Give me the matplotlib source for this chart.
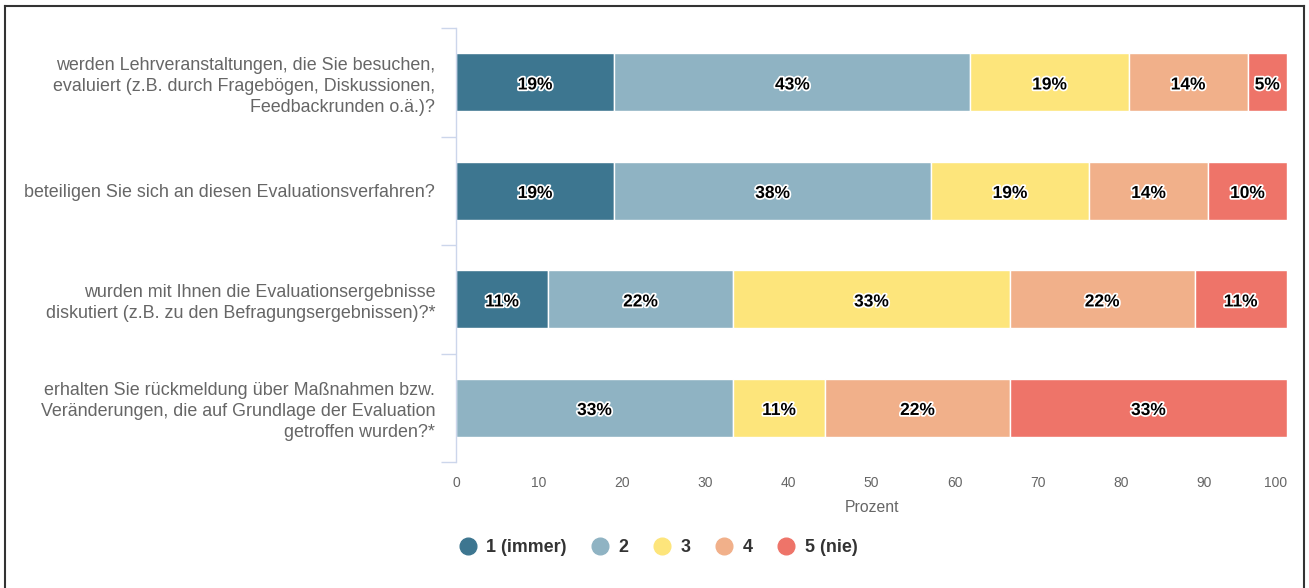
import matplotlib.pyplot as plt
import matplotlib.patheffects as pe
from matplotlib.lines import Line2D
import numpy as np

plt.rcParams["font.family"] = ["Liberation Sans", "DejaVu Sans"]

# Questions (top to bottom)
questions = [
    "werden Lehrveranstaltungen, die Sie besuchen,\nevaluiert (z.B. durch Fragebögen, Diskussionen,\nFeedbackrunden o.ä.)?",
    "beteiligen Sie sich an diesen Evaluationsverfahren?",
    "wurden mit Ihnen die Evaluationsergebnisse\ndiskutiert (z.B. zu den Befragungsergebnissen)?*",
    "erhalten Sie rückmeldung über Maßnahmen bzw.\nVeränderungen, die auf Grundlage der Evaluation\ngetroffen wurden?*",
]
series_names = ["1 (immer)", "2", "3", "4", "5 (nie)"]
colors = ["#3d7690", "#8fb3c3", "#fde57b", "#f1b08a", "#ee7469"]

# percentages per answer category, one list per series (rows = questions)
s1 = [19.05, 19.05, 11.11, 0.0]
s2 = [42.86, 38.10, 22.22, 33.33]
s3 = [19.05, 19.05, 33.33, 11.11]
s4 = [14.29, 14.29, 22.22, 22.22]
s5 = [4.76, 9.52, 11.11, 33.33]
series = [s1, s2, s3, s4, s5]

W, H = 1309, 588
fig = plt.figure(figsize=(W / 100, H / 100), dpi=100)
ax = fig.add_axes([456 / W, 1 - 462 / H, (1287 - 456) / W, (462 - 28) / H])

y = np.arange(len(questions))
left = np.zeros(len(questions))
for name, vals, c in zip(series_names, series, colors):
    vals = np.array(vals)
    ax.barh(y, vals, left=left, height=0.53, color=c, edgecolor="white",
            linewidth=1, label=name)
    for yi, (l, v) in enumerate(zip(left, vals)):
        if v > 0:
            t = ax.text(l + v / 2, yi + 0.025, f"{v:.0f}%", ha="center", va="center",
                        fontsize=12.5, fontweight="bold", color="black")
            t.set_path_effects([pe.withStroke(linewidth=2.5, foreground="white")])
    left = left + vals

ax.set_xlim(0, 100)
ax.set_ylim(len(questions) - 0.5, -0.5)
ax.set_xticks(np.arange(0, 101, 10))
ax.tick_params(axis="x", length=0, labelsize=10, labelcolor="#666666", pad=10)
ax.get_xticklabels()[-1].set_horizontalalignment("right")

# category labels + boundary ticks
ax.set_yticks(y)
ax.set_yticklabels(questions, fontsize=12.9, color="#666666", linespacing=1.32)
ax.set_yticks(np.arange(-0.5, len(questions)), minor=True)
ax.tick_params(axis="y", which="minor", length=11, color="#ccd6eb", width=1)
ax.tick_params(axis="y", which="major", length=0, pad=15)

for s in ["top", "right", "bottom"]:
    ax.spines[s].set_visible(False)
ax.spines["left"].set_color("#ccd6eb")
ax.spines["left"].set_linewidth(1)

ax.set_xlabel("Prozent", fontsize=11.3, color="#666666", labelpad=7)

handles = [Line2D([0], [0], marker="o", linestyle="none", markersize=12,
                  markerfacecolor=c, markeredgecolor=c) for c in colors]
leg = fig.legend(handles, series_names, loc="center", bbox_to_anchor=(658 / W, 1 - 548 / H),
                 ncol=5, frameon=False, handlelength=1.0, handletextpad=0.55,
                 columnspacing=1.35, prop={"weight": "bold", "size": 12.9})
for t in leg.get_texts():
    t.set_color("#333333")

# outer frame
for xs, ys in [([5 / W, 5 / W], [0, 1 - 6 / H]),
               ([5 / W, 1304 / W], [1 - 6 / H, 1 - 6 / H]),
               ([1304 / W, 1304 / W], [0, 1 - 6 / H])]:
    fig.add_artist(Line2D(xs, ys, color="#333333", linewidth=1.5))

fig.savefig("out.png", dpi=100)
